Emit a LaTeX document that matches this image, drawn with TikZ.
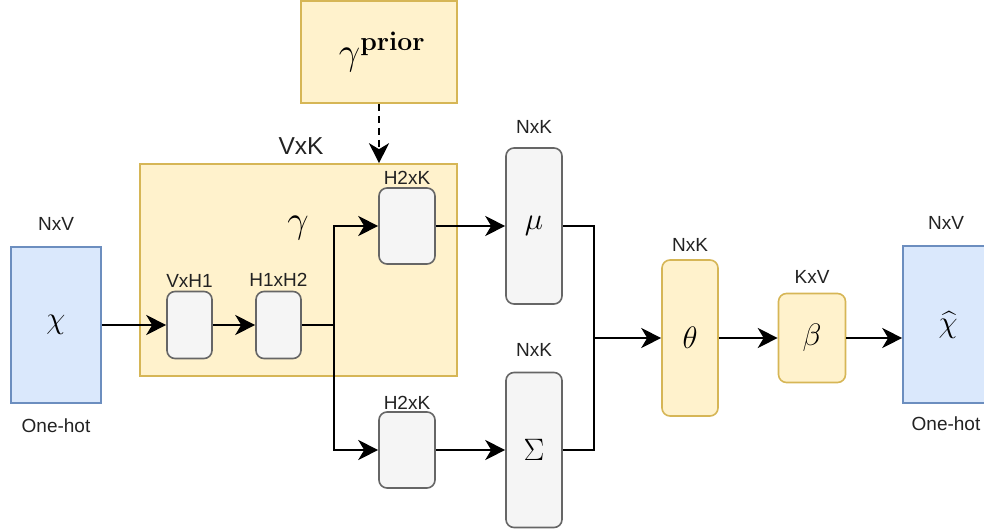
\RequirePackage{fix-cm}
\documentclass[tikz,border=0pt]{standalone}
\usepackage{amsmath}
\usepackage[no-math]{fontspec}
\setmainfont{Liberation Sans}
\usetikzlibrary{arrows.meta}
\definecolor{bluefill}{HTML}{DAE8FC}
\definecolor{bluedraw}{HTML}{6C8EBF}
\definecolor{yelfill}{HTML}{FFF2CC}
\definecolor{yeldraw}{HTML}{D6B656}
\definecolor{grayfill}{HTML}{F5F5F5}
\definecolor{graydraw}{HTML}{666666}
\definecolor{txt}{HTML}{222222}
\tikzset{
  bluebox/.style={draw=bluedraw,fill=bluefill,line width=1.6pt,inner sep=0pt},
  yelbox/.style={draw=yeldraw,fill=yelfill,line width=1.6pt,inner sep=0pt},
  yelround/.style={yelbox,rounded corners=8pt},
  graybox/.style={draw=graydraw,fill=grayfill,line width=1.6pt,rounded corners=8pt,inner sep=0pt},
  lbl/.style={text=txt,font=\fontsize{19}{21}\selectfont,inner sep=0pt},
  biglbl/.style={text=txt,font=\fontsize{24.5}{26}\selectfont,inner sep=0pt},
  mth/.style={font=\fontsize{31}{31}\selectfont,inner sep=0pt},
  gmth/.style={font=\fontsize{38}{38}\selectfont,inner sep=0pt},
  conn/.style={line width=2pt,-{Stealth[length=20pt,width=20pt,inset=6pt]}},
  plain/.style={line width=2pt},
}
\begin{document}
\begin{tikzpicture}[x=1pt,y=-1pt]
\useasboundingbox (0,0) rectangle (984,529);
% input
\node[bluebox,minimum width=90pt,minimum height=156pt] (xin) at (56,325) {};
\node[mth] (xinlab) at (56,325) {$\chi$};
\node[lbl] (nxv1) at (56,224) {NxV};
\node[lbl] (oh1) at (56,426) {One-hot};
% gamma box
\node[yelbox,minimum width=317pt,minimum height=212pt] (gbig) at (298.5,270) {};
\node[gmth] (glab) at (298,228) {$\gamma$};
\node[biglbl] (vxk) at (301,146) {VxK};
% prior
\node[yelbox,minimum width=156pt,minimum height=102pt] (prior) at (379,52) {};
\node[gmth] (priorlab) at (382,52) {$\gamma^{\mathbf{prior}}$};
% inner boxes
\node[graybox,minimum width=45pt,minimum height=67pt] (v1) at (189.5,325) {};
\node[lbl] (v1lab) at (189.5,281) {VxH1};
\node[graybox,minimum width=45pt,minimum height=67pt] (v2) at (278.5,325) {};
\node[lbl] (v2lab) at (278.5,280) {H1xH2};
\node[graybox,minimum width=56pt,minimum height=76pt] (h2u) at (407,226) {};
\node[lbl] (h2ulab) at (407,178) {H2xK};
\node[graybox,minimum width=56pt,minimum height=76pt] (h2l) at (407,450) {};
\node[lbl] (h2llab) at (407,403) {H2xK};
% mu / sigma
\node[graybox,minimum width=56pt,minimum height=156pt] (mu) at (534,226) {};
\node[mth] (mulab) at (534,226) {$\mu$};
\node[lbl] (mutop) at (534,127) {NxK};
\node[graybox,minimum width=56pt,minimum height=155pt] (sig) at (534,450) {};
\node[mth] (siglab) at (534,450) {$\Sigma$};
\node[lbl] (sigtop) at (534,350) {NxK};
% theta, beta
\node[yelround,minimum width=56pt,minimum height=156pt] (theta) at (690,338) {};
\node[mth] (thetalab) at (690,338) {$\theta$};
\node[lbl] (thetatop) at (690,245) {NxK};
\node[yelround,minimum width=67pt,minimum height=89pt] (beta) at (812,338) {};
\node[mth] (betalab) at (812,338) {$\beta$};
\node[lbl] (betatop) at (812,277) {KxV};
% output
\begin{scope}
\clip (0,0) rectangle (984,529);
\node[bluebox,minimum width=90pt,minimum height=157pt] (xout) at (948,324.5) {};
\end{scope}
\node[mth] (xoutlab) at (948,325) {$\widehat{\chi}$};
\node[lbl] (nxv2) at (946,223) {NxV};
\node[lbl] (oh2) at (946,424) {One-hot};
% connectors
\coordinate (j1) at (334,325);
\coordinate (j2) at (594,338);
\draw[conn] (xin.east) -- (v1.west);
\draw[conn] (v1.east) -- (v2.west);
\draw[plain] (v2.east) -- (j1);
\draw[conn] (j1) |- (h2u.west);
\draw[conn] (j1) |- (h2l.west);
\draw[conn] (h2u.east) -- (mu.west);
\draw[conn] (h2l.east) -- (sig.west);
\draw[plain] (mu.east) -| (j2);
\draw[plain] (sig.east) -| (j2);
\draw[conn] (j2) -- (theta.west);
\draw[conn] (theta.east) -- (beta.west);
\draw[conn] (beta.east) -- (beta.east -| xout.west);
\draw[conn,dash pattern=on 7pt off 5pt] (prior.south) -- (prior.south |- gbig.north);
\end{tikzpicture}
\end{document}
